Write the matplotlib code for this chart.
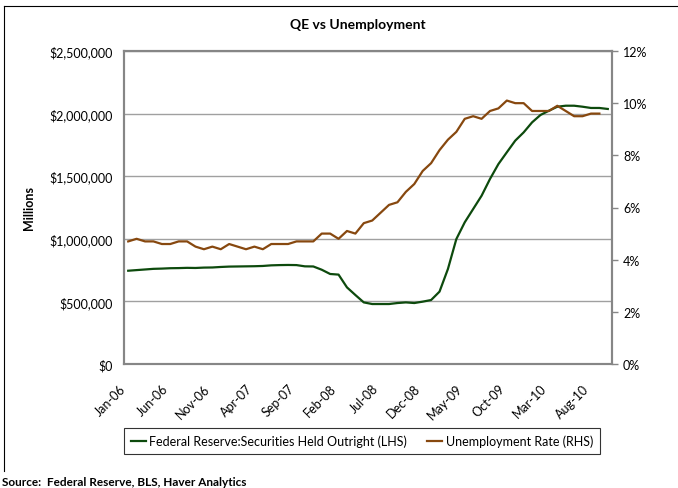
import numpy as np
import matplotlib
matplotlib.use('Agg')
import matplotlib.pyplot as plt
import matplotlib.transforms as mtransforms
from matplotlib.lines import Line2D
from matplotlib.ticker import FuncFormatter, MultipleLocator

plt.rcParams['font.family'] = ['Lato', 'DejaVu Sans']

# monthly series, Jan-06 .. Oct-10
months = ['Jan-06', 'Feb-06', 'Mar-06', 'Apr-06', 'May-06', 'Jun-06', 'Jul-06', 'Aug-06',
          'Sep-06', 'Oct-06', 'Nov-06', 'Dec-06', 'Jan-07', 'Feb-07', 'Mar-07', 'Apr-07',
          'May-07', 'Jun-07', 'Jul-07', 'Aug-07', 'Sep-07', 'Oct-07', 'Nov-07', 'Dec-07',
          'Jan-08', 'Feb-08', 'Mar-08', 'Apr-08', 'May-08', 'Jun-08', 'Jul-08', 'Aug-08',
          'Sep-08', 'Oct-08', 'Nov-08', 'Dec-08', 'Jan-09', 'Feb-09', 'Mar-09', 'Apr-09',
          'May-09', 'Jun-09', 'Jul-09', 'Aug-09', 'Sep-09', 'Oct-09', 'Nov-09', 'Dec-09',
          'Jan-10', 'Feb-10', 'Mar-10', 'Apr-10', 'May-10', 'Jun-10', 'Jul-10', 'Aug-10',
          'Sep-10', 'Oct-10']

# Fed securities held outright, $ millions
fed_securities = [745000, 750000, 755000, 760000, 762000, 765000, 766000, 768000,
                  767000, 770000, 771000, 775000, 778000, 779000, 780000, 781000,
                  783000, 788000, 790000, 791000, 790000, 780000, 779000, 753000,
                  719000, 714000, 612000, 551000, 492000, 479000, 479000, 479000,
                  487000, 492000, 487000, 498000, 511000, 578000, 759000, 998000,
                  1132000, 1238000, 1344000, 1478000, 1597000, 1691000, 1784000, 1850000,
                  1930000, 1989000, 2023000, 2055000, 2063000, 2063000, 2055000, 2045000,
                  2045000, 2037000]

# unemployment rate, % (through Sep-10)
unemployment = [4.7, 4.8, 4.7, 4.7, 4.6, 4.6, 4.7, 4.7, 4.5, 4.4, 4.5, 4.4,
                4.6, 4.5, 4.4, 4.5, 4.4, 4.6, 4.6, 4.6, 4.7, 4.7, 4.7, 5.0,
                5.0, 4.8, 5.1, 5.0, 5.4, 5.5, 5.8, 6.1, 6.2, 6.6, 6.9, 7.4,
                7.7, 8.2, 8.6, 8.9, 9.4, 9.5, 9.4, 9.7, 9.8, 10.1, 10.0, 10.0,
                9.7, 9.7, 9.7, 9.9, 9.7, 9.5, 9.5, 9.6, 9.6]

GREEN = '#0d4a0d'
BROWN = '#87480f'
GRID = '#a0a0a0'
SPINE = '#868686'

W, H = 678, 489
fig = plt.figure(figsize=(W / 100, H / 100), dpi=100)
ax = fig.add_axes([124 / W, 1 - 365 / H, (612 - 124) / W, (365 - 52) / H])
ax2 = ax.twinx()

x = np.arange(len(months))
ax.plot(x[:len(fed_securities)], fed_securities, color=GREEN, lw=1.6,
        label='Federal Reserve:Securities Held Outright (LHS)', zorder=3)
ax2.plot(x[:len(unemployment)], np.array(unemployment) / 100, color=BROWN, lw=1.6,
         label='Unemployment Rate (RHS)', zorder=3)

ax.set_xlim(-0.5, len(months) - 0.5)
ax.set_ylim(0, 2500000)
ax2.set_ylim(0, 0.12)
ax.yaxis.set_major_locator(MultipleLocator(500000))
ax2.yaxis.set_major_locator(MultipleLocator(0.02))
ax.yaxis.set_major_formatter(FuncFormatter(lambda v, p: f'${v:,.0f}'))
ax2.yaxis.set_major_formatter(FuncFormatter(lambda v, p: f'{v * 100:.0f}%'))

ax.grid(axis='y', color=GRID, lw=1)
ax.set_axisbelow(True)

tick_idx = list(range(0, len(months), 5))
ax.set_xticks(tick_idx)
ax.set_xticklabels([months[i] for i in tick_idx], rotation=45, ha='right', va='top')
shift = mtransforms.ScaledTranslation(7 / 100, 0, fig.dpi_scale_trans)
for lbl in ax.get_xticklabels():
    lbl.set_transform(lbl.get_transform() + shift)

ax.tick_params(axis='x', length=0, pad=13, labelsize=9, colors='black')
ax.tick_params(axis='y', length=0, pad=8, labelsize=9, colors='black')
ax2.tick_params(axis='y', length=4, width=1, color=SPINE, pad=4, labelsize=9,
                labelcolor='black')

for a in (ax, ax2):
    for s in a.spines.values():
        s.set_color(SPINE)
        s.set_linewidth(1.5)

ax.set_ylabel('Millions', fontsize=9, fontweight='bold', labelpad=10)
ax.yaxis.set_label_coords((35 - 124) / (612 - 124), 0.5)

fig.text(358 / W, 1 - 25 / H, 'QE vs Unemployment', ha='center', va='center',
         fontsize=10, fontweight='bold')

h1, l1 = ax.get_legend_handles_labels()
h2, l2 = ax2.get_legend_handles_labels()
leg = fig.legend(h1 + h2, l1 + l2, loc='center', bbox_to_anchor=(362 / W, 1 - 442 / H),
                 ncol=2, frameon=True, fancybox=False, fontsize=9, handlelength=1.2,
                 handletextpad=0.3, columnspacing=1.6, borderpad=0.5)
leg.get_frame().set_edgecolor('black')
leg.get_frame().set_linewidth(0.8)

fig.text(2 / W, 1 - 483 / H, 'Source:  Federal Reserve, BLS, Haver Analytics',
         ha='left', va='center', fontsize=8.5, fontweight='bold')

# chart area border (top and left edges)
fig.add_artist(Line2D([4 / W, 1], [1 - 7 / H, 1 - 7 / H], color='black', lw=0.8,
                      transform=fig.transFigure))
fig.add_artist(Line2D([4 / W, 4 / W], [1 - 7 / H, 1 - 472 / H], color='black', lw=0.8,
                      transform=fig.transFigure))

fig.savefig('out.png', dpi=100, facecolor='white')
